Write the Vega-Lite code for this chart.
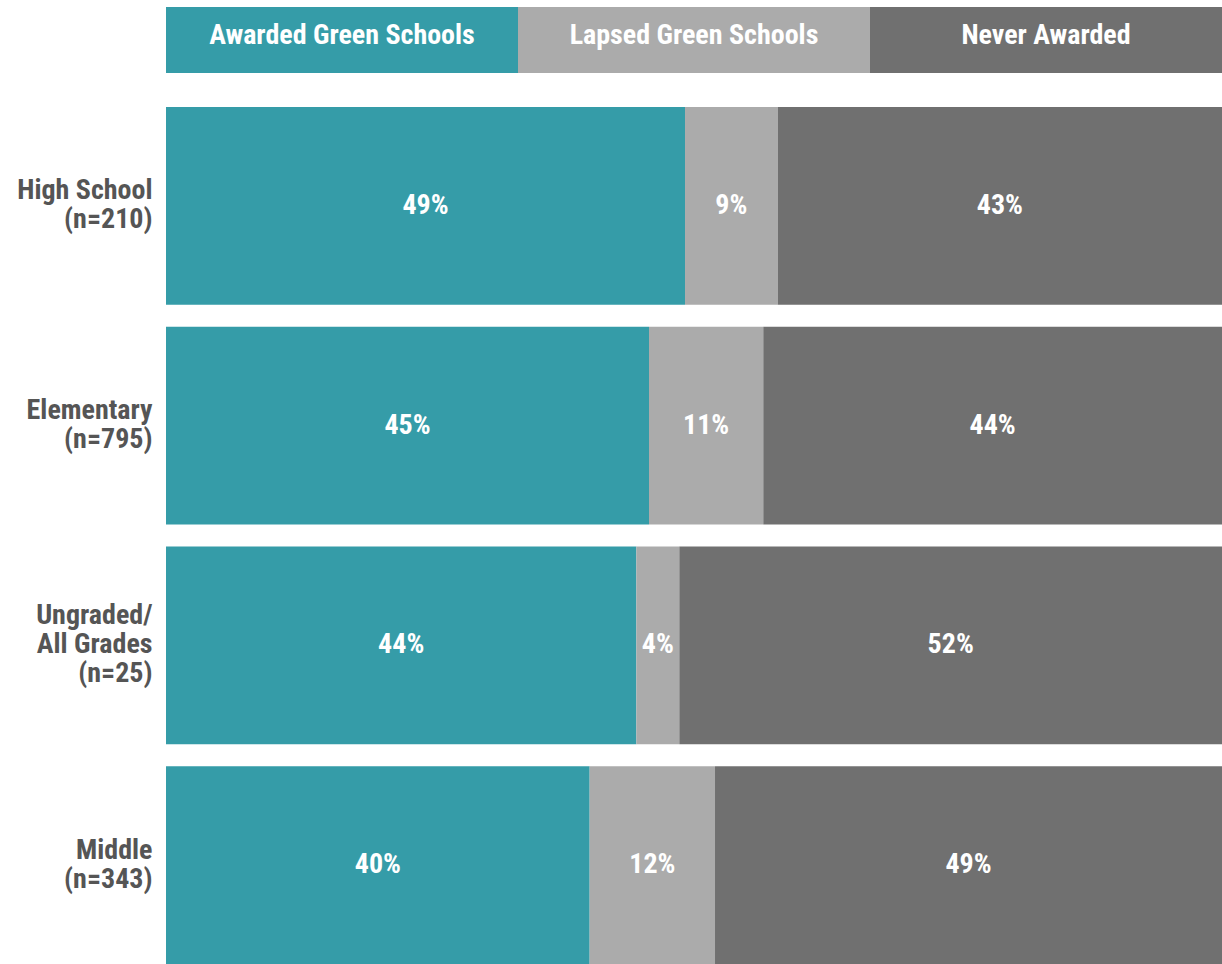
{
  "$schema": "https://vega.github.io/schema/vega-lite/v6.json",
  "autosize": {"type": "pad"},
  "padding": {"left": 0, "top": 7, "right": 0, "bottom": 0},
  "background": "white",
  "config": {
    "view": {"stroke": null},
    "font": "Roboto Condensed, Liberation Sans Narrow, sans-serif"
  },
  "datasets": {
    "cats": [
      {"category": "Awarded Green Schools", "order": 1},
      {"category": "Lapsed Green Schools", "order": 2},
      {"category": "Never Awarded", "order": 3}
    ],
    "rows": [
      {"school": "High School|(n=210)", "category": "Awarded Green Schools", "order": 1, "value": 49.15, "label": "49%"},
      {"school": "High School|(n=210)", "category": "Lapsed Green Schools", "order": 2, "value": 8.78, "label": "9%"},
      {"school": "High School|(n=210)", "category": "Never Awarded", "order": 3, "value": 42.07, "label": "43%"},
      {"school": "Elementary|(n=795)", "category": "Awarded Green Schools", "order": 1, "value": 45.74, "label": "45%"},
      {"school": "Elementary|(n=795)", "category": "Lapsed Green Schools", "order": 2, "value": 10.82, "label": "11%"},
      {"school": "Elementary|(n=795)", "category": "Never Awarded", "order": 3, "value": 43.44, "label": "44%"},
      {"school": "Ungraded/|All Grades|(n=25)", "category": "Awarded Green Schools", "order": 1, "value": 44.54, "label": "44%"},
      {"school": "Ungraded/|All Grades|(n=25)", "category": "Lapsed Green Schools", "order": 2, "value": 4.07, "label": "4%"},
      {"school": "Ungraded/|All Grades|(n=25)", "category": "Never Awarded", "order": 3, "value": 51.39, "label": "52%"},
      {"school": "Middle|(n=343)", "category": "Awarded Green Schools", "order": 1, "value": 40.12, "label": "40%"},
      {"school": "Middle|(n=343)", "category": "Lapsed Green Schools", "order": 2, "value": 11.87, "label": "12%"},
      {"school": "Middle|(n=343)", "category": "Never Awarded", "order": 3, "value": 48.01, "label": "49%"}
    ]
  },
  "vconcat": [
    {
      "width": 1056,
      "height": 66,
      "data": {"name": "cats"},
      "encoding": {
        "x": {
          "field": "category",
          "type": "nominal",
          "sort": ["Awarded Green Schools", "Lapsed Green Schools", "Never Awarded"],
          "scale": {"paddingInner": 0, "paddingOuter": 0},
          "axis": null
        }
      },
      "layer": [
        {
          "mark": {"type": "bar"},
          "encoding": {
            "color": {
              "field": "category",
              "type": "nominal",
              "scale": {
                "domain": ["Awarded Green Schools", "Lapsed Green Schools", "Never Awarded"],
                "range": ["#359CA8", "#ABABAB", "#707070"]
              },
              "legend": null
            }
          }
        },
        {
          "mark": {"type": "text", "color": "white", "fontSize": 28, "fontWeight": "bold", "align": "center", "baseline": "middle", "dy": -4},
          "encoding": {"text": {"field": "category"}}
        }
      ]
    },
    {
      "width": 1056,
      "height": 857,
      "data": {"name": "rows"},
      "transform": [
        {"stack": "value", "groupby": ["school"], "sort": [{"field": "order"}], "as": ["x0", "x1"]},
        {"calculate": "(datum.x0 + datum.x1) / 2", "as": "mid"}
      ],
      "encoding": {
        "y": {
          "field": "school",
          "type": "nominal",
          "sort": ["High School|(n=210)", "Elementary|(n=795)", "Ungraded/|All Grades|(n=25)", "Middle|(n=343)"],
          "scale": {"paddingInner": 0.1, "paddingOuter": 0},
          "axis": {
            "title": null,
            "ticks": false,
            "domain": false,
            "labelExpr": "split(datum.label, '|')",
            "labelFontSize": 28,
            "labelFontWeight": "bold",
            "labelColor": "#555555",
            "labelPadding": 14,
            "labelLineHeight": 29,
            "labelLimit": 300,
            "labelOffset": {"expr": "-(length(split(datum.value, '|')) - 1) * 14.5"},
            "minExtent": 166,
            "maxExtent": 166
          }
        }
      },
      "layer": [
        {
          "mark": {"type": "bar"},
          "encoding": {
            "x": {"field": "x0", "type": "quantitative", "scale": {"domain": [0, 100]}, "axis": null},
            "x2": {"field": "x1"},
            "color": {
              "field": "category",
              "type": "nominal",
              "scale": {
                "domain": ["Awarded Green Schools", "Lapsed Green Schools", "Never Awarded"],
                "range": ["#359CA8", "#ABABAB", "#707070"]
              },
              "legend": null
            }
          }
        },
        {
          "mark": {"type": "text", "color": "white", "fontSize": 28, "fontWeight": "bold", "align": "center", "baseline": "middle"},
          "encoding": {
            "x": {"field": "mid", "type": "quantitative", "scale": {"domain": [0, 100]}, "axis": null},
            "text": {"field": "label"}
          }
        }
      ]
    }
  ],
  "spacing": 34
}
